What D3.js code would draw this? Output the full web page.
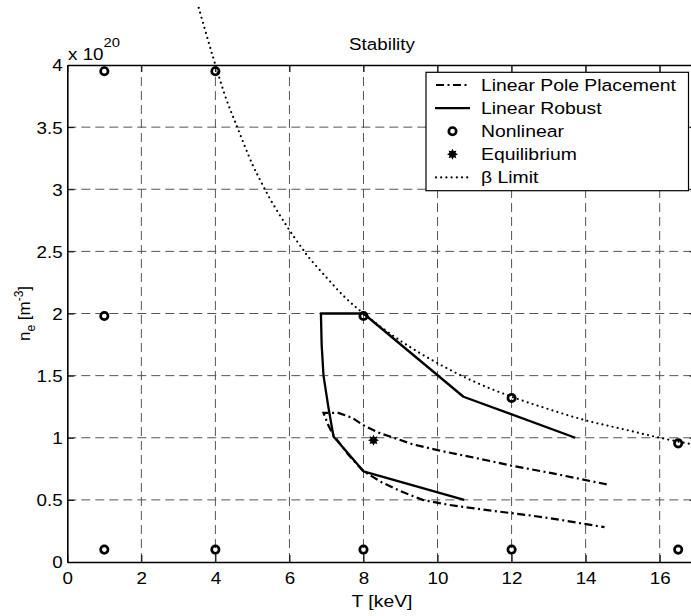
<!DOCTYPE html>
<html><head><meta charset="utf-8">
<script src="https://cdn.jsdelivr.net/npm/d3@7"></script>
<style>
html,body{margin:0;padding:0;background:#fff;}
svg{display:block;font-family:"Liberation Sans",Arial,sans-serif;}
</style></head>
<body><svg id="c" width="691" height="616"></svg>
<script>
// ---- data ----
const xTicks = [0, 2, 4, 6, 8, 10, 12, 14, 16];
const yTicks = [0, 0.5, 1, 1.5, 2, 2.5, 3, 3.5, 4];
const nonlinearT = [1, 4, 1, 8, 12, 16.5, 1, 4, 8, 12, 16.5];
const nonlinearN = [3.95, 3.95, 1.98, 1.98, 1.32, 0.955, 0.1, 0.1, 0.1, 0.1, 0.1];
const equilibriumT = [8.27];
const equilibriumN = [0.98];
const betaT = [3.55, 3.8, 4.0, 4.3, 4.55, 5.0, 5.25, 5.5, 6.0, 6.33, 6.5, 7.0, 7.5, 8.0, 9.0, 10.0, 11.0, 12.0, 13.0, 14.0, 15.0, 16.0, 17.0];
const betaN = [4.46, 4.2, 4.0, 3.72, 3.53, 3.2, 3.05, 2.91, 2.67, 2.53, 2.46, 2.29, 2.13, 2.0, 1.78, 1.6, 1.45, 1.33, 1.23, 1.14, 1.07, 1.0, 0.94];
const robustT = [10.72, 8.0, 7.19, 7.05, 6.92, 6.87, 6.85, 8.0, 10.7, 13.72];
const robustN = [0.5, 0.73, 1.01, 1.25, 1.5, 1.75, 2.0, 2.0, 1.33, 1.0];
const poleT = [14.57, 13.0, 12.0, 11.15, 10.0, 9.3, 8.72, 8.45, 8.0, 7.7, 7.32, 6.92, 7.05, 7.19, 7.6, 8.0, 8.5, 9.0, 9.6, 10.3, 11.4, 12.5, 13.3, 14.51];
const poleN = [0.625, 0.72, 0.775, 0.83, 0.9, 0.95, 1.01, 1.036, 1.1, 1.16, 1.2, 1.2, 1.1, 1.02, 0.86, 0.73, 0.64, 0.57, 0.5, 0.46, 0.415, 0.375, 0.34, 0.28];
const legendLabels = ["Linear Pole Placement", "Linear Robust", "Nonlinear", "Equilibrium", "\u03B2 Limit"];

// ---- layout ----
const SX = 1.14;
const svg = d3.select("#c");
const L = 67.3, R = 696.7, T = 65, B = 562;
const x = d3.scaleLinear().domain([0, 17]).range([L, R]);
const y = d3.scaleLinear().domain([0, 4]).range([B, T]);

// grid
const grid = svg.append("g").attr("stroke", "#555").attr("stroke-width", 1).attr("stroke-dasharray", "9,5");
grid.selectAll("line.v").data(xTicks.filter(d => d > 0)).join("line")
  .attr("x1", d => x(d)).attr("x2", d => x(d)).attr("y1", B).attr("y2", T);
grid.selectAll("line.h").data(yTicks.filter(d => d > 0 && d < 4)).join("line")
  .attr("x1", L).attr("x2", R).attr("y1", d => y(d)).attr("y2", d => y(d));

// axes
function styleAxis(g) {
  g.selectAll("path.domain").attr("stroke", "#000").attr("stroke-width", 1.6);
  g.selectAll(".tick line").attr("stroke", "#000").attr("stroke-width", 1);
  g.selectAll(".tick text").attr("fill", "#000").style("font-size", "16.5px")
   .attr("font-family", "Liberation Sans, Arial, sans-serif");
}
const gx = svg.append("g").attr("transform", `translate(0,${B})`)
  .call(d3.axisBottom(x).tickValues(xTicks).tickSize(-7).tickSizeOuter(0).tickPadding(10).tickFormat(d => String(d)));
styleAxis(gx);
gx.selectAll(".tick text").attr("transform", `scale(${SX},1)`);
const gy = svg.append("g").attr("transform", `translate(${L},0)`)
  .call(d3.axisLeft(y).tickValues(yTicks).tickSize(-7).tickSizeOuter(0).tickPadding(4).tickFormat(d => String(d)));
styleAxis(gy);
gy.selectAll(".tick text").attr("transform", `scale(${SX},1)`).attr("dy", "0.36em");
const gt = svg.append("g").attr("transform", `translate(0,${T})`)
  .call(d3.axisTop(x).tickValues(xTicks).tickSize(-7).tickSizeOuter(0).tickFormat(""));
styleAxis(gt);
const gr = svg.append("g").attr("transform", `translate(${R},0)`)
  .call(d3.axisRight(y).tickValues(yTicks).tickSize(-7).tickSizeOuter(0).tickFormat(""));
styleAxis(gr);

// lines
const line = d3.line().x(d => x(d[0])).y(d => y(d[1]));
svg.append("path").datum(betaT.map((t, i) => [t, betaN[i]]))
  .attr("d", line.curve(d3.curveCatmullRom)).attr("fill", "none").attr("stroke", "#000")
  .attr("stroke-width", 2.2).attr("stroke-linecap", "round").attr("stroke-dasharray", "0,5.2");
svg.append("path").datum(robustT.map((t, i) => [t, robustN[i]]))
  .attr("d", line.curve(d3.curveLinear)).attr("fill", "none").attr("stroke", "#000")
  .attr("stroke-width", 2.3).attr("stroke-linejoin", "round");
svg.append("path").datum(poleT.map((t, i) => [t, poleN[i]]))
  .attr("d", line.curve(d3.curveLinear)).attr("fill", "none").attr("stroke", "#000")
  .attr("stroke-width", 2.2).attr("stroke-dasharray", "8,3.5,2,3.5");

// markers
svg.append("g").selectAll("circle").data(nonlinearT.map((t, i) => [t, nonlinearN[i]])).join("circle")
  .attr("cx", d => x(d[0])).attr("cy", d => y(d[1])).attr("r", 3.7)
  .attr("fill", "none").attr("stroke", "#000").attr("stroke-width", 2.7);
// small filled burst (MATLAB-like hexagram marker)
const burst = {
  draw(ctx, size) {
    const ro = Math.sqrt(size) / 2, ri = ro * 0.6, n = 8;
    for (let k = 0; k < 2 * n; k++) {
      const a = Math.PI * k / n - Math.PI / 2;
      const r = k % 2 === 0 ? ro : ri;
      if (k === 0) ctx.moveTo(r * Math.cos(a), r * Math.sin(a));
      else ctx.lineTo(r * Math.cos(a), r * Math.sin(a));
    }
    ctx.closePath();
  }
};
const star = d3.symbol().type(burst).size(120);
svg.append("g").selectAll("path").data(equilibriumT.map((t, i) => [t, equilibriumN[i]])).join("path")
  .attr("transform", d => `translate(${x(d[0])},${y(d[1])})`).attr("d", star).attr("fill", "#000");

// text helper
function stext(px, py, anchor, size) {
  return svg.append("text").attr("transform", `translate(${px},${py}) scale(${SX},1)`)
    .attr("text-anchor", anchor).style("font-size", size + "px").attr("fill", "#000");
}
stext((L + R) / 2, 50, "middle", 16.5).text("Stability");
stext((L + R) / 2, 607, "middle", 17).text("T [keV]");
const ex = stext(68, 60, "start", 16.5);
ex.append("tspan").text("x 10");
ex.append("tspan").attr("dy", -13).style("font-size", "13px").text("20");
const yl = svg.append("text").attr("transform", `translate(30,${(T + B) / 2}) rotate(-90)`)
  .attr("text-anchor", "middle").style("font-size", "17px").attr("fill", "#000");
yl.append("tspan").text("n");
yl.append("tspan").attr("dy", 5).style("font-size", "12px").text("e");
yl.append("tspan").attr("dy", -5).text(" [m");
yl.append("tspan").attr("dy", -7).style("font-size", "12px").text("-3");
yl.append("tspan").attr("dy", 7).text("]");

// legend
const lg = svg.append("g");
lg.append("rect").attr("x", 426).attr("y", 72.3).attr("width", 262.5).attr("height", 118.4)
  .attr("fill", "#fff").attr("stroke", "#000").attr("stroke-width", 1.2);
const rowY = i => 85 + i * 23.1;
legendLabels.forEach((lab, i) => {
  stext(481, rowY(i) + 6, "start", 17).text(lab);
});
lg.append("line").attr("x1", 436).attr("x2", 470).attr("y1", rowY(0)).attr("y2", rowY(0))
  .attr("stroke", "#000").attr("stroke-width", 2.2).attr("stroke-dasharray", "8,3.5,2,3.5");
lg.append("line").attr("x1", 435).attr("x2", 470).attr("y1", rowY(1)).attr("y2", rowY(1))
  .attr("stroke", "#000").attr("stroke-width", 2.3);
lg.append("circle").attr("cx", 452.5).attr("cy", rowY(2)).attr("r", 3.7)
  .attr("fill", "none").attr("stroke", "#000").attr("stroke-width", 2.7);
lg.append("path").attr("transform", `translate(452.5,${rowY(3)})`).attr("d", star).attr("fill", "#000");
lg.append("line").attr("x1", 436).attr("x2", 470).attr("y1", rowY(4)).attr("y2", rowY(4))
  .attr("stroke", "#000").attr("stroke-width", 2.2).attr("stroke-linecap", "round").attr("stroke-dasharray", "0,5.2");
</script></body></html>
